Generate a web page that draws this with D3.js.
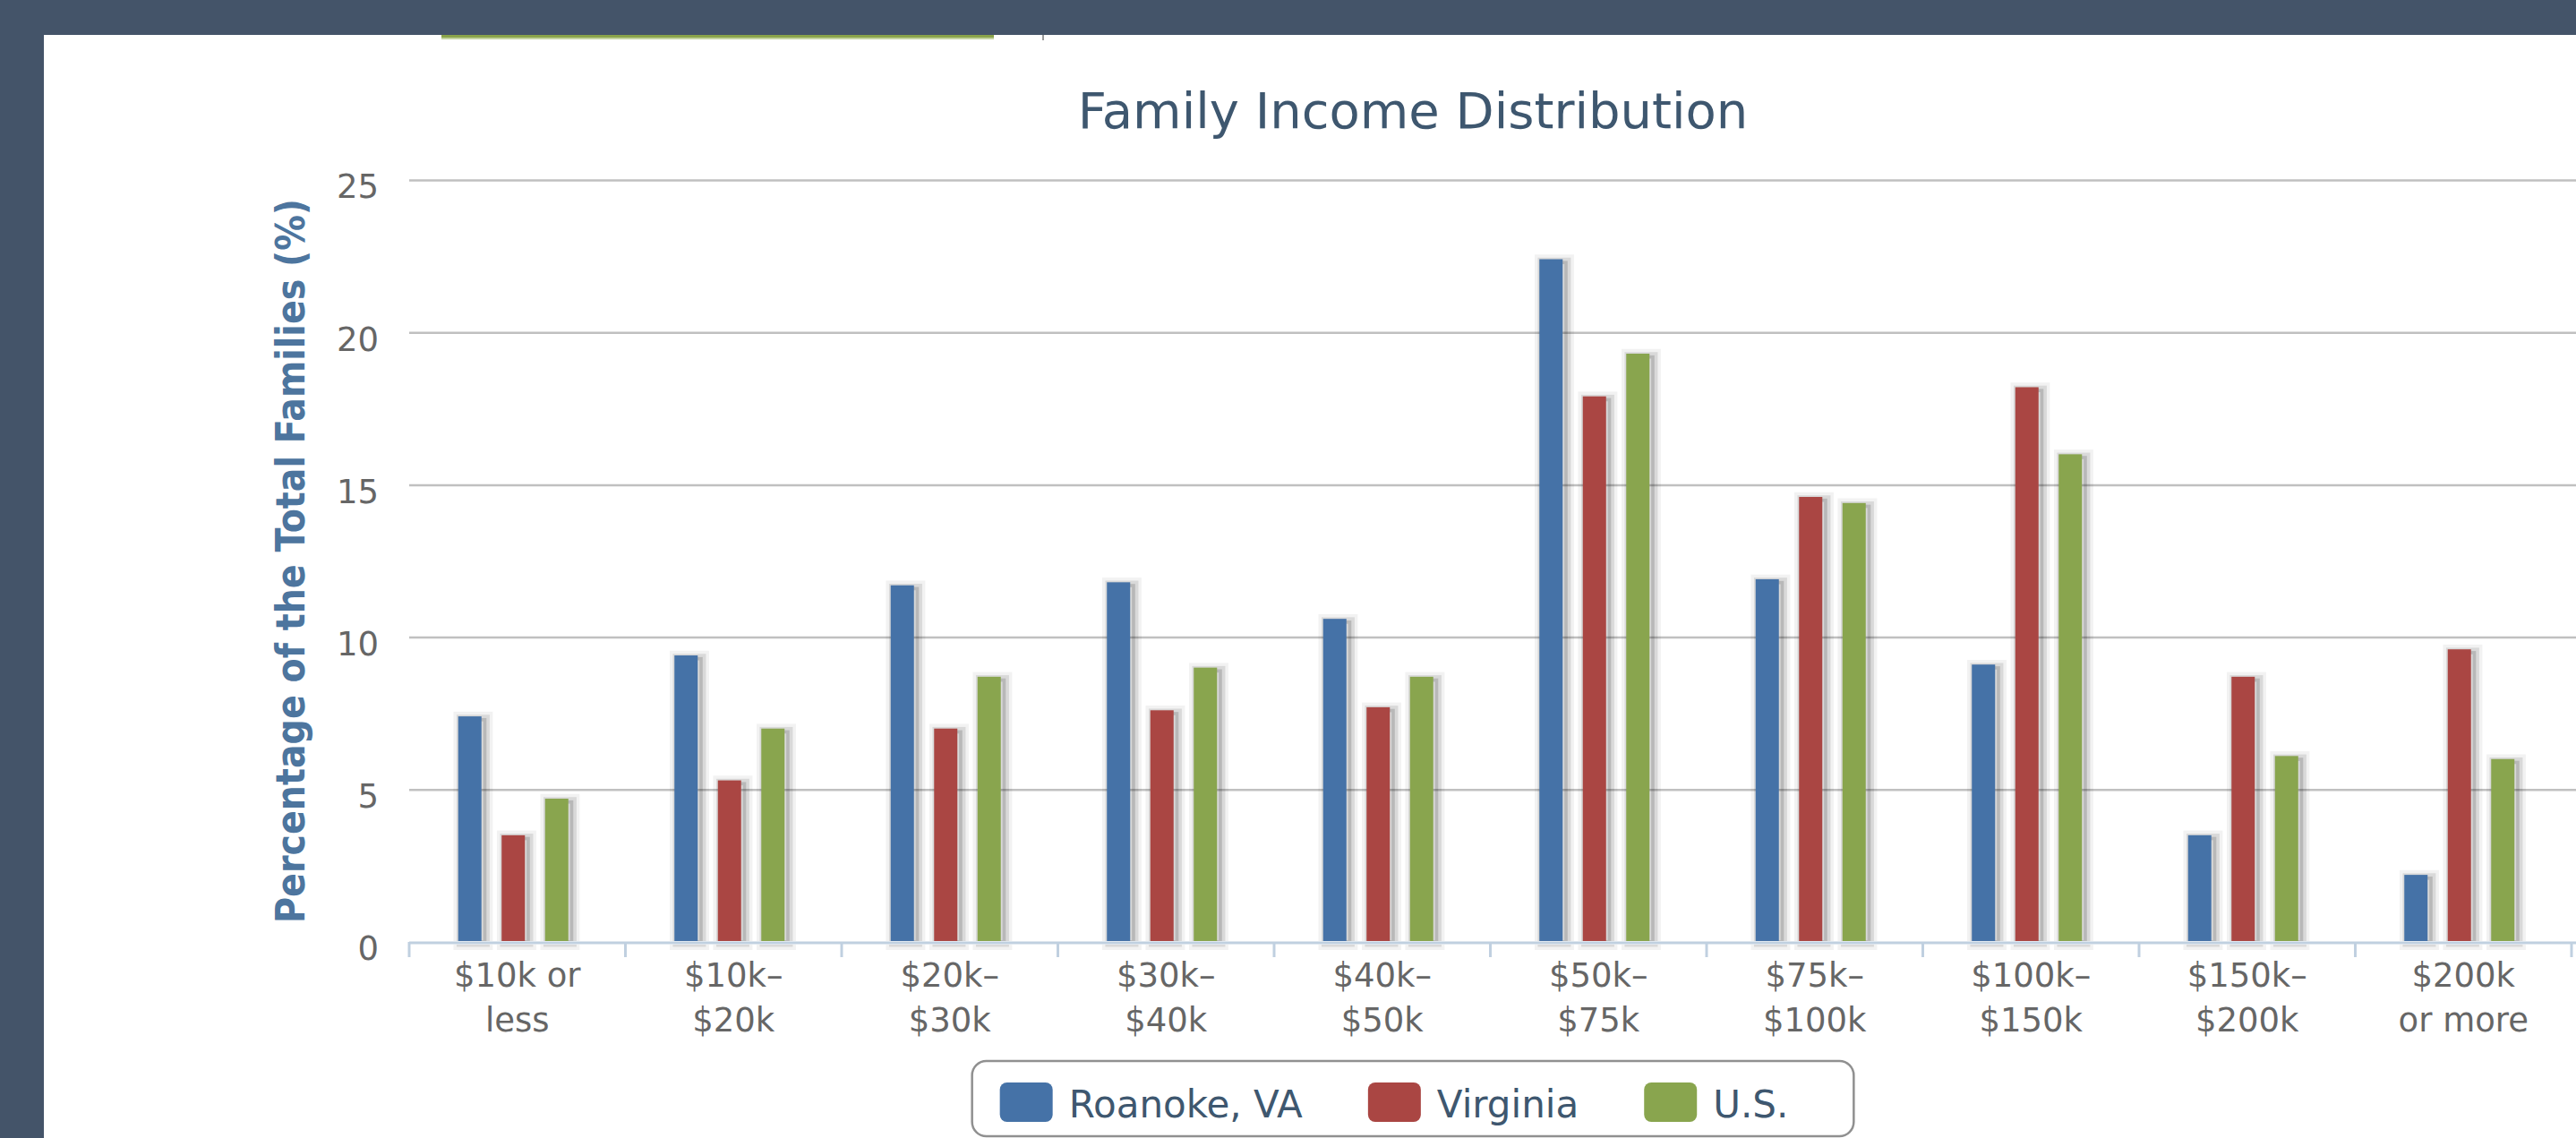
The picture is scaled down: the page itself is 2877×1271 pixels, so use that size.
<!DOCTYPE html>
<html>
<head>
<meta charset="utf-8">
<script src="https://cdn.jsdelivr.net/npm/d3@7"></script>
<style>
  body { margin: 0; background: #445469; }
  svg { display: block; }
  text { font-family: "DejaVu Sans", Verdana, sans-serif; }
</style>
</head>
<body>
<script>
var categories = ["$10k or\nless", "$10k–\n$20k", "$20k–\n$30k", "$30k–\n$40k", "$40k–\n$50k",
                  "$50k–\n$75k", "$75k–\n$100k", "$100k–\n$150k", "$150k–\n$200k", "$200k\nor more"];
var seriesNames = ["Roanoke, VA", "Virginia", "U.S."];
var roanoke  = [7.4, 9.4, 11.7, 11.8, 10.6, 22.4, 11.9, 9.1, 3.5, 2.2];
var virginia = [3.5, 5.3, 7.0, 7.6, 7.7, 17.9, 14.6, 18.2, 8.7, 9.6];
var usa      = [4.7, 7.0, 8.7, 9.0, 8.7, 19.3, 14.4, 16.0, 6.1, 6.0];
var yTicks = [0, 5, 10, 15, 20, 25];
var colors = ["#4572A7", "#AA4643", "#89A54E"];

var w = 2877,
    h = 1271;

var plot = { left: 457, right: 2872, top: 201, bottom: 1052 };

var allSeries = [roanoke, virginia, usa];

var svg = d3.select("body")
  .append("svg")
  .attr("width", w)
  .attr("height", h);

// page frame
svg.append("rect")
  .attr("x", 49).attr("y", 39)
  .attr("width", w - 49).attr("height", h - 39)
  .attr("fill", "#ffffff");
svg.append("rect")
  .attr("x", 493).attr("y", 39)
  .attr("width", 617).attr("height", 3)
  .attr("fill", "#8aa34a");
svg.append("rect")
  .attr("x", 493).attr("y", 42)
  .attr("width", 617).attr("height", 2)
  .attr("fill", "#c3d3a0");
svg.append("rect")
  .attr("x", 1164).attr("y", 39)
  .attr("width", 2).attr("height", 6)
  .attr("fill", "#9a9a9a");

var xScale = d3.scaleBand()
  .domain(categories)
  .range([plot.left, plot.right]);

var xInner = d3.scaleBand()
  .domain(seriesNames)
  .range([43.5, 189])
  .paddingInner(0.464)
  .paddingOuter(0.232);

var yScale = d3.scaleLinear()
  .domain([0, 25])
  .range([plot.bottom, plot.top]);

// grid lines
var grid = d3.axisRight()
  .scale(yScale)
  .tickValues(yTicks.slice(1))
  .tickSize(w - plot.left)
  .tickFormat("");

svg.append("g")
  .attr("class", "grid")
  .attr("transform", "translate(" + plot.left + ",0)")
  .call(grid)
  .call(function(g) { g.select(".domain").remove(); })
  .selectAll("line")
  .attr("stroke", "#c0c0c0")
  .attr("stroke-width", 2.5);

// y axis labels
var yAxis = d3.axisLeft()
  .scale(yScale)
  .tickValues(yTicks)
  .tickSize(0)
  .tickPadding(34);

svg.append("g")
  .attr("class", "axis")
  .attr("transform", "translate(" + plot.left + ",0)")
  .call(yAxis)
  .call(function(g) { g.select(".domain").remove(); })
  .selectAll("text")
  .attr("dy", "0.54em")
  .attr("fill", "#666666")
  .style("font-size", "37px")
  .style("font-family", "'DejaVu Sans', sans-serif");

// y axis title
svg.append("text")
  .attr("transform", "translate(340," + (plot.top + plot.bottom) / 2 + ") rotate(-90)")
  .attr("text-anchor", "middle")
  .attr("fill", "#4d759e")
  .style("font-weight", "bold")
  .style("font-size", "44px")
  .style("font-stretch", "condensed")
  .style("font-family", "'DejaVu Sans Condensed', 'DejaVu Sans', sans-serif")
  .text("Percentage of the Total Families (%)");

// bars with highcharts-like shadow
var groups = svg.selectAll("g.cat")
  .data(categories)
  .enter()
  .append("g")
  .attr("class", "cat")
  .attr("transform", function(d) { return "translate(" + xScale(d) + ",0)"; });

var bars = groups.selectAll("g.bar")
  .data(function(d, i) {
    return allSeries.map(function(s, j) { return { name: seriesNames[j], value: s[i], color: colors[j] }; });
  })
  .enter()
  .append("g")
  .attr("class", "bar");

[[18, 0.05], [11, 0.1], [3.7, 0.15]].forEach(function(sh) {
  bars.append("rect")
    .attr("transform", "translate(3.7,3.7)")
    .attr("x", function(d) { return xInner(d.name); })
    .attr("y", function(d) { return yScale(d.value); })
    .attr("width", xInner.bandwidth())
    .attr("height", function(d) { return plot.bottom - yScale(d.value) - 3.7; })
    .attr("fill", "none")
    .attr("stroke", "#000")
    .attr("stroke-opacity", sh[1])
    .attr("stroke-width", sh[0]);
});

bars.append("rect")
  .attr("x", function(d) { return xInner(d.name); })
  .attr("y", function(d) { return yScale(d.value); })
  .attr("width", xInner.bandwidth())
  .attr("height", function(d) { return plot.bottom - yScale(d.value); })
  .attr("fill", function(d) { return d.color; });

// x axis line, ticks, labels
svg.append("rect")
  .attr("x", plot.left)
  .attr("y", plot.bottom - 1)
  .attr("width", w - plot.left)
  .attr("height", 4)
  .attr("fill", "#ffffff");

svg.append("line")
  .attr("x1", plot.left).attr("x2", w)
  .attr("y1", plot.bottom + 1).attr("y2", plot.bottom + 1)
  .attr("stroke", "#c0d0e0")
  .attr("stroke-width", 3);

var boundaries = categories.map(function(c) { return xScale(c); }).concat([plot.right]);
svg.selectAll("line.xtick")
  .data(boundaries)
  .enter()
  .append("line")
  .attr("class", "xtick")
  .attr("x1", function(d) { return d; })
  .attr("x2", function(d) { return d; })
  .attr("y1", plot.bottom)
  .attr("y2", plot.bottom + 17)
  .attr("stroke", "#c0d0e0")
  .attr("stroke-width", 3);

var xLabels = svg.selectAll("text.xlabel")
  .data(categories)
  .enter()
  .append("text")
  .attr("class", "xlabel")
  .attr("text-anchor", "middle")
  .attr("fill", "#666666")
  .style("font-size", "37px")
  .attr("transform", function(d) { return "translate(" + (xScale(d) + xScale.bandwidth() / 2) + "," + (plot.bottom + 50) + ")"; });

xLabels.selectAll("tspan")
  .data(function(d) { return d.split("\n"); })
  .enter()
  .append("tspan")
  .attr("x", 0)
  .attr("y", function(d, i) { return i * 50; })
  .text(function(d) { return d; });

// title
svg.append("text")
  .attr("x", 1578)
  .attr("y", 143)
  .attr("text-anchor", "middle")
  .attr("fill", "#3e576f")
  .style("font-size", "56px")
  .text("Family Income Distribution");

// legend
var legend = svg.append("g").attr("class", "legend");
var legendBox = legend.append("rect")
  .attr("y", 1185)
  .attr("height", 84)
  .attr("rx", 16)
  .attr("fill", "#ffffff")
  .attr("stroke", "#909090")
  .attr("stroke-width", 2.5);

var lx = 31;
var items = legend.selectAll("g.item")
  .data(seriesNames)
  .enter()
  .append("g")
  .attr("class", "item");

items.append("rect")
  .attr("y", 1209)
  .attr("width", 59)
  .attr("height", 44)
  .attr("rx", 8)
  .attr("fill", function(d, i) { return colors[i]; });

items.append("text")
  .attr("x", 77)
  .attr("y", 1248)
  .attr("fill", "#3e576f")
  .style("font-size", "42px")
  .text(function(d) { return d; });

items.each(function() {
  var g = d3.select(this);
  g.attr("transform", "translate(" + lx + ",0)");
  lx += 77 + g.select("text").node().getComputedTextLength() + 73;
});

var boxW = lx;
var boxX = 1578 - boxW / 2;
legendBox.attr("x", boxX).attr("width", boxW);
legend.selectAll("g.item").attr("transform", function() {
  var t = d3.select(this).attr("transform");
  var off = +t.match(/translate\(([-\d.]+)/)[1];
  return "translate(" + (boxX + off) + ",0)";
});
</script>
</body>
</html>
